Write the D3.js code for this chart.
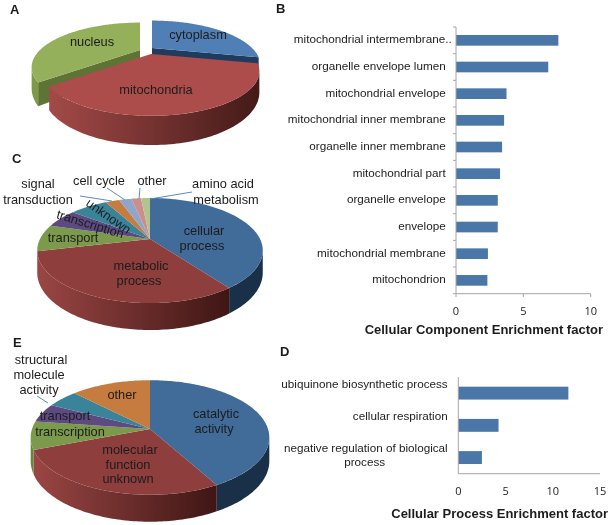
<!DOCTYPE html>
<html><head><meta charset="utf-8">
<script src="https://cdn.jsdelivr.net/npm/d3@7"></script>
<style>html,body{margin:0;padding:0;background:#fff}svg{display:block;filter:blur(0.35px)}text{font-family:"Liberation Sans",Arial,sans-serif;fill:#1c1c1c}</style>
</head><body><svg id="c" width="611" height="525"></svg>
<script>
// ---- data ----
const pieACats = ["cytoplasm","mitochondria","nucleus"];
const pieAVals = [28.6,35.3,36.1];
const pieCCats = ["cellular process","metabolic process","transport","transcription","unknown","signal transduction","cell cycle","other","amino acid metabolism"];
const pieCVals = [40,31.4,8.3,5.8,6.7,2.5,2.2,1.7,1.6];
const pieECats = ["catalytic activity","molecular function unknown","transcription","transport","structural molecule activity","other"];
const pieEVals = [41.8,27.4,8,5.3,5,12.5];
const barBCats = ["mitochondrial intermembrane..","organelle envelope lumen","mitochondrial envelope","mitochondrial inner membrane","organelle inner membrane","mitochondrial part","organelle envelope","envelope","mitochondrial membrane","mitochondrion"];
const barBVals = [7.6,6.85,3.75,3.57,3.42,3.27,3.1,3.1,2.37,2.33];
const barBTicks = [0,5,10];
const barDCats = [["ubiquinone biosynthetic process"],["cellular respiration"],["negative regulation of biological","process"]];
const barDVals = [11.65,4.26,2.5];
const barDTicks = [0,5,10,15];

// ---- styles ----
const svg = d3.select("#c");
const defs = svg.append("defs");
const barCol = "#4a76a8", axisCol = "#a6a6a6", leader = "#5b8bbd";
let gid = 0;

function drawPie(cfg){
  const {vals,tops,walls,cx,cy,rx,ry,k,depth,offset,order} = cfg;
  const arcs = d3.pie().sort(null)(vals);
  const line = d3.line();
  const scale = t => 1/(1+k*Math.cos(t));
  const P = (t,o,d=0)=>{ const s=scale(t), v=-Math.cos(t);
    return [cx+o[0]+rx*Math.sin(t)*s, cy+o[1]+ry*v*s+d*s]; };
  const samples=(a,b)=>{ const n=Math.max(2,Math.ceil((b-a)/0.02)); return d3.range(n+1).map(i=>a+(b-a)*i/n); };
  const f0=Math.PI-Math.acos(k), f1=Math.PI+Math.acos(k);   // silhouette of the disc
  const groups = (order||arcs.map((_,i)=>i));
  groups.forEach(i=>{
    const a=arcs[i], o=offset?offset[i]:[0,0], ts=samples(a.startAngle,a.endAngle);
    const top=ts.map(t=>P(t,o));
    const w0=Math.max(a.startAngle,f0), w1=Math.min(a.endAngle,f1);
    const w=walls[i];
    if(w1>w0){
      const ws=samples(w0,w1), wt=ws.map(t=>P(t,o)), wb=ws.map(t=>P(t,o,depth)).reverse();
      let fill=w[0];
      if(w[0]!==w[1]){
        const id="g"+(gid++);
        const xs=d3.extent(wt,d=>d[0]);
        const lg=defs.append("linearGradient").attr("id",id).attr("gradientUnits","userSpaceOnUse")
          .attr("x1",xs[0]).attr("x2",xs[1]).attr("y1",0).attr("y2",0);
        lg.append("stop").attr("offset",0).attr("stop-color",w[0]);
        lg.append("stop").attr("offset",1).attr("stop-color",w[1]);
        fill=`url(#${id})`;
      }
      svg.append("path").attr("d",line(wt.concat(wb))+"Z").attr("fill",fill);
    }
    const apex=[cx+o[0],cy+o[1]];
    if(offset && cfg.cut && cfg.cut[i]){
      const ang=cfg.cutAt[i]==="start"?a.startAngle:a.endAngle;
      const edge=P(ang,o), e2=P(ang,o,depth);
      svg.append("path").attr("d",line([apex,edge,e2,[apex[0],apex[1]+depth]])+"Z").attr("fill",cfg.cut[i]);
    }
    svg.append("path").attr("d",line([apex].concat(top))+"Z").attr("fill",tops[i]);
  });
}

function label(x,y,str,rot){
  const t=svg.append("text").attr("x",x).attr("y",y).attr("text-anchor","middle").attr("dominant-baseline","middle")
    .attr("font-size",12.8).text(str);
  if(rot) t.attr("transform",`rotate(${rot} ${x} ${y})`);
}
function letter(x,y,s){svg.append("text").attr("x",x).attr("y",y).attr("font-size",13).attr("font-weight","bold").attr("fill","#111").text(s);}
function lead(x1,y1,x2,y2){svg.append("line").attr("x1",x1).attr("y1",y1).attr("x2",x2).attr("y2",y2).attr("stroke",leader).attr("stroke-width",1);}

// Pie A
drawPie({vals:pieAVals,cx:148,cy:54,rx:100,ry:38,k:0.385,depth:18,
  tops:["#4f7fb5","#ad4d4b","#94b05a"],
  walls:[["#1f3c5e","#1f3c5e"],["#a34a48","#431a18"],["#7d9a48","#7d9a48"]],
  offset:[[4,-6],[3,0],[-8,-4]],order:[2,0,1],
  cut:["#1f3c5e",null,"#5f7334"],cutAt:["end",null,"start"]});
// Pie C
drawPie({vals:pieCVals,cx:150,cy:239,rx:110,ry:50,k:0.22,depth:21,
  tops:["#416b98","#8e3e3c","#7c9a4c","#5d4a80","#3a8499","#c67c3e","#8fa6c8","#cb8e8d","#b2c48e"],
  walls:[["#1a3048","#1a3048"],["#9a4644","#3e1614"],["#6b8540","#6b8540"],["#4a3a66","#4a3a66"],["#2e6a7b","#2e6a7b"],["#a06030","#a06030"],["#7a8faa","#7a8faa"],["#a87575","#a87575"],["#94a575","#94a575"]]});
// Pie E
drawPie({vals:pieEVals,cx:150,cy:429,rx:118,ry:56,k:0.148,depth:23,
  tops:["#416b98","#8e3e3c","#7c9a4c","#5d4a80","#3a8499","#c67c3e"],
  walls:[["#1a3048","#1a3048"],["#9a4644","#3e1614"],["#6b8540","#6b8540"],["#4a3a66","#4a3a66"],["#2e6a7b","#2e6a7b"],["#a06030","#a06030"]]});

// Pie labels
label(198,36,"cytoplasm"); label(92,43,"nucleus"); label(156,91,"mitochondria");
lead(80,196,112,201); lead(107,188,125,200); lead(140,188,139,199); lead(192,192,150,199);
label(38,185,"signal"); label(38,201,"transduction"); label(99,182,"cell cycle"); label(152,182,"other");
label(223,185,"amino acid"); label(226,201,"metabolism");
label(108,217,"unknown",35); label(90,225,"transcription",17); label(73,239,"transport");
label(204,232,"cellular"); label(202,247,"process"); label(141,267,"metabolic"); label(139,282,"process");
lead(37,396,48,403);
label(41,361,"structural"); label(39,376,"molecule"); label(39,391,"activity"); label(122,396,"other");
label(216,415,"catalytic"); label(214,430,"activity"); label(65,417,"transport"); label(70,433,"transcription");
label(130,451,"molecular"); label(128,466,"function"); label(128,480,"unknown");

// Bar B
{
  const x=d3.scaleLinear().domain([0,10]).range([456,590.7]);
  const y=d3.scaleBand().domain(barBCats).range([27,293.7]).paddingInner(0.6).paddingOuter(0.3);
  svg.selectAll(".bb").data(barBVals).join("rect").attr("x",x(0)).attr("y",(d,i)=>y(barBCats[i]))
    .attr("width",d=>x(d)-x(0)).attr("height",y.bandwidth()).attr("fill",barCol);
  const step=y.step();
  svg.append("line").attr("x1",456).attr("x2",456).attr("y1",27).attr("y2",293.7).attr("stroke",axisCol);
  svg.append("line").attr("x1",456).attr("x2",590.7).attr("y1",293.7).attr("y2",293.7).attr("stroke",axisCol);
  d3.range(barBCats.length+1).forEach(i=>{const yy=27+i*step;
    svg.append("line").attr("x1",453).attr("x2",456).attr("y1",yy).attr("y2",yy).attr("stroke",axisCol);});
  barBTicks.forEach(t=>{
    svg.append("line").attr("x1",x(t)).attr("x2",x(t)).attr("y1",293.7).attr("y2",297).attr("stroke",axisCol);
    svg.append("text").attr("x",x(t)).attr("y",312).attr("text-anchor","middle").attr("dominant-baseline","middle")
      .attr("font-size",11).style("font-family","'Open Sans'").text(t);
  });
  barBCats.forEach((c,i)=>{
    svg.append("text").attr("x",i===0?451.7:445.7).attr("y",y(c)+y.bandwidth()/2).attr("text-anchor","end")
      .attr("dominant-baseline","middle").attr("font-size",11.7).text(c);
  });
  svg.append("text").attr("x",603).attr("y",331).attr("text-anchor","end").attr("dominant-baseline","middle")
    .attr("font-size",13).attr("font-weight","bold").text("Cellular Component Enrichment factor");
}
// Bar D
{
  const x=d3.scaleLinear().domain([0,15]).range([458.3,600]);
  const y=d3.scaleBand().domain(d3.range(barDVals.length)).range([377,473.7]).paddingInner(0.6).paddingOuter(0.3);
  svg.selectAll(".bd").data(barDVals).join("rect").attr("x",x(0)).attr("y",(d,i)=>y(i))
    .attr("width",d=>x(d)-x(0)).attr("height",y.bandwidth()).attr("fill",barCol);
  svg.append("line").attr("x1",458.3).attr("x2",458.3).attr("y1",377).attr("y2",473.7).attr("stroke",axisCol);
  svg.append("line").attr("x1",458.3).attr("x2",600).attr("y1",473.7).attr("y2",473.7).attr("stroke",axisCol);
  barDTicks.forEach(t=>{
    svg.append("text").attr("x",x(t)).attr("y",492).attr("text-anchor","middle").attr("dominant-baseline","middle")
      .attr("font-size",11).style("font-family","'Open Sans'").text(t);
  });
  barDCats.forEach((ls,i)=>{
    ls.forEach((l,j)=>svg.append("text").attr("x",447.7).attr("y",y(i)+y.bandwidth()/2-8.5+j*13.5).attr("text-anchor",j===1?"middle":"end")
      .attr("dx",j===1?-83:0).attr("dominant-baseline","middle").attr("font-size",11.7).text(l));
  });
  svg.append("text").attr("x",608).attr("y",515).attr("text-anchor","end").attr("dominant-baseline","middle")
    .attr("font-size",13).attr("font-weight","bold").text("Cellular Process Enrichment factor");
}
letter(10,13.5,"A"); letter(276,13,"B"); letter(12,162.5,"C"); letter(280,355.5,"D"); letter(13,347,"E");
</script></body></html>
